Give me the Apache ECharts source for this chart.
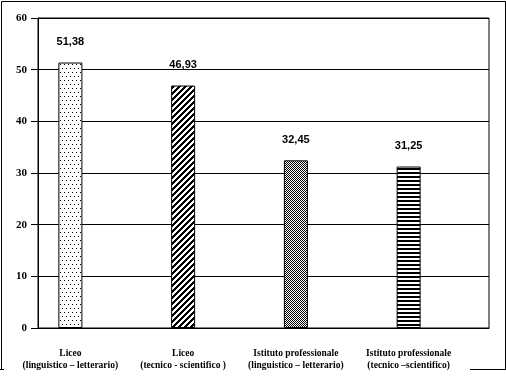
<!DOCTYPE html>
<html>
<head>
<meta charset="utf-8">
<script src="https://cdn.jsdelivr.net/npm/echarts@6/dist/echarts.min.js"></script>
<style>
html,body{margin:0;padding:0;background:#fff;}
#c{width:506px;height:380px;}
</style>
</head>
<body>
<div id="c"></div>
<script>
const categories = [
  "Liceo\n(linguistico – letterario)",
  "Liceo\n(tecnico - scientifico )",
  "Istituto professionale\n(linguistico – letterario)",
  "Istituto professionale\n(tecnico –scientifico)"
];
const values = [51.38, 46.93, 32.45, 31.25];
const yTicks = [0, 10, 20, 30, 40, 50, 60];

function makePattern(w, h, isBlack) {
  const c = document.createElement('canvas');
  c.width = w; c.height = h;
  const ctx = c.getContext('2d');
  ctx.fillStyle = '#fff';
  ctx.fillRect(0, 0, w, h);
  ctx.fillStyle = '#000';
  for (let y = 0; y < h; y++) for (let x = 0; x < w; x++) if (isBlack(x, y)) ctx.fillRect(x, y, 1, 1);
  return { image: c, repeat: 'repeat' };
}
const patterns = [
  makePattern(4, 8, (x, y) => (x === 0 && y === 0) || (x === 2 && y === 4)),
  makePattern(6, 6, (x, y) => ((x + y) % 6) < 3),
  makePattern(2, 2, (x, y) => ((x + y) % 2) === 0),
  makePattern(1, 4, (x, y) => y < 2)
];

const chart = echarts.init(document.getElementById('c'), null, { renderer: 'canvas' });
chart.setOption({
  animation: false,
  backgroundColor: '#fff',
  grid: { left: 38, right: 17, top: 18, bottom: 52, show: true, borderColor: '#000', borderWidth: 1 },
  xAxis: {
    type: 'category',
    data: categories,
    axisLine: { lineStyle: { color: '#000', width: 1 } },
    axisTick: { show: false },
    axisLabel: {
      interval: 0,
      margin: 20,
      color: '#000',
      fontFamily: 'Liberation Serif',
      fontWeight: 'bold',
      fontSize: 9.5,
      lineHeight: 12,
      padding: [0, 48, 0, 0]
    }
  },
  yAxis: {
    type: 'value',
    min: yTicks[0],
    max: yTicks[yTicks.length - 1],
    interval: 10,
    axisLine: { show: true, lineStyle: { color: '#000', width: 1 } },
    axisTick: { show: true, length: 7, lineStyle: { color: '#000' } },
    splitLine: { lineStyle: { color: '#000', width: 1 } },
    axisLabel: {
      margin: 11,
      color: '#000',
      fontFamily: 'Liberation Serif',
      fontWeight: 'bold',
      fontSize: 11
    }
  },
  series: [
    {
      type: 'bar',
      barWidth: 24,
      barGap: '0%',
      data: values.map((v, i) => ({
        value: v,
        itemStyle: { color: patterns[i], borderColor: '#000', borderWidth: 1 }
      })),
      label: {
        show: true,
        position: 'top',
        distance: 15,
        color: '#000',
        fontFamily: 'Liberation Sans',
        fontWeight: 'bold',
        fontSize: 11,
        formatter: p => p.value.toFixed(2).replace('.', ',')
      }
    },
    { type: 'bar', barWidth: 24, barGap: '0%', data: values.map(() => '-') },
    { type: 'bar', barWidth: 24, barGap: '0%', data: values.map(() => '-') }
  ],
  graphic: [
    { type: 'polyline', shape: { points: [[1.5, 369.5], [1.5, 1.5], [505.5, 1.5], [505.5, 369.5]] }, style: { stroke: '#000', lineWidth: 1, fill: null } },
    { type: 'line', shape: { x1: 0, y1: 369.5, x2: 4, y2: 369.5 }, style: { stroke: '#000', lineWidth: 1 } },
    { type: 'line', shape: { x1: 470, y1: 369.5, x2: 506, y2: 369.5 }, style: { stroke: '#000', lineWidth: 1 } }
  ]
});
</script>
</body>
</html>
